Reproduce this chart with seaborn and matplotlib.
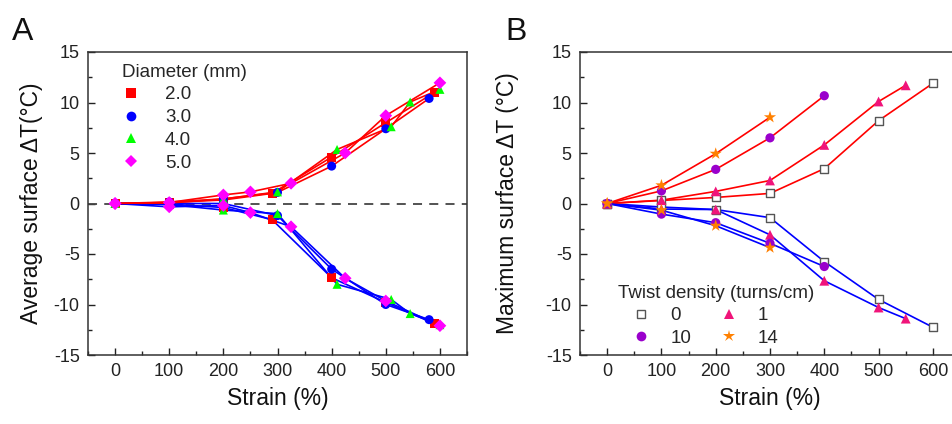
import matplotlib
matplotlib.use("Agg")
import matplotlib.pyplot as plt
from matplotlib.ticker import MultipleLocator
from matplotlib.lines import Line2D
import seaborn as sns
import pandas as pd

sns.set_theme(style="white")
plt.rcParams['font.family'] = ['Liberation Sans', 'DejaVu Sans']
plt.rcParams['axes.unicode_minus'] = False

# ---------------- Panel A data (diameter) ----------------
diameters = ["2.0", "3.0", "4.0", "5.0"]
strain_d20 = [0, 100, 200, 290, 400, 500, 590]
heat_d20 = [0, 0.1, 0.35, 1.0, 4.6, 8.0, 11.0]
cool_d20 = [0, -0.05, -0.4, -1.6, -7.35, -9.8, -11.9]
strain_d30 = [0, 100, 200, 300, 400, 500, 580]
heat_d30 = [0, 0.15, 0.45, 1.1, 3.7, 7.4, 10.4]
cool_d30 = [0, 0.0, 0.0, -1.2, -6.5, -10.0, -11.5]
strain_d40 = [0, 100, 200, 300, 410, 510, 545, 600]
heat_d40 = [0, 0.05, 0.45, 1.15, 5.35, 7.6, 10.05, 11.3]
cool_d40 = [0, -0.1, -0.65, -1.0, -8.0, -9.5, -10.9, -12.0]
strain_d50 = [0, 100, 200, 250, 325, 425, 500, 600]
heat_d50 = [0, 0.1, 0.85, 1.15, 2.0, 5.0, 8.7, 11.95]
cool_d50 = [0, -0.33, -0.2, -0.9, -2.3, -7.4, -9.65, -12.1]

# ---------------- Panel B data (twist density) ----------------
twists = ["0", "1", "10", "14"]
strain_t0 = [0, 100, 200, 300, 400, 500, 600]
heat_t0 = [0, 0.3, 0.6, 1.0, 3.45, 8.2, 11.9]
cool_t0 = [0, -0.35, -0.6, -1.4, -5.75, -9.5, -12.25]
strain_t1 = [0, 100, 200, 300, 400, 500, 550]
heat_t1 = [0, 0.33, 1.2, 2.28, 5.8, 10.1, 11.7]
cool_t1 = [0, -0.55, -0.6, -3.1, -7.65, -10.3, -11.4]
strain_t10 = [0, 100, 200, 300, 400]
heat_t10 = [0, 1.25, 3.38, 6.5, 10.67]
cool_t10 = [0, -1.05, -1.9, -3.94, -6.24]
strain_t14 = [0, 100, 200, 300]
heat_t14 = [0, 1.8, 4.93, 8.54]
cool_t14 = [0, -0.66, -2.2, -4.37]

xticks = [0, 100, 200, 300, 400, 500, 600]
yticks = [-15, -10, -5, 0, 5, 10, 15]

# build long tables
rows = []
for d, s, h, c in zip(diameters,
                      [strain_d20, strain_d30, strain_d40, strain_d50],
                      [heat_d20, heat_d30, heat_d40, heat_d50],
                      [cool_d20, cool_d30, cool_d40, cool_d50]):
    for xv, yv in zip(s, h):
        rows.append(dict(group=d, mode="heat", strain=xv, dT=yv))
    for xv, yv in zip(s, c):
        rows.append(dict(group=d, mode="cool", strain=xv, dT=yv))
dfA = pd.DataFrame(rows)

rows = []
for t, s, h, c in zip(twists,
                      [strain_t0, strain_t1, strain_t10, strain_t14],
                      [heat_t0, heat_t1, heat_t10, heat_t14],
                      [cool_t0, cool_t1, cool_t10, cool_t14]):
    for xv, yv in zip(s, h):
        rows.append(dict(group=t, mode="heat", strain=xv, dT=yv))
    for xv, yv in zip(s, c):
        rows.append(dict(group=t, mode="cool", strain=xv, dT=yv))
dfB = pd.DataFrame(rows)

line_col = {"heat": "#FF0000", "cool": "#0000FF"}

fig = plt.figure(figsize=(9.52, 4.24), dpi=100)
axA = fig.add_axes([88/952, 1-355/424, 379/952, 303/424])
axB = fig.add_axes([580/952, 1-355/424, 380/952, 303/424])

def style_axes(ax, ylabel):
    ax.set_xlim(-50, 650)
    ax.set_ylim(-15, 15)
    ax.set_xticks(xticks)
    ax.set_yticks(yticks)
    ax.xaxis.set_minor_locator(MultipleLocator(50))
    ax.yaxis.set_minor_locator(MultipleLocator(2.5))
    ax.tick_params(which="both", direction="in", top=False, right=False,
                   bottom=True, left=True, labelsize=13, colors="#222222",
                   labelcolor="#222222", pad=6)
    ax.tick_params(which="major", length=5, width=1)
    ax.tick_params(which="minor", length=3, width=1)
    for sp in ax.spines.values():
        sp.set_color("#333333")
        sp.set_linewidth(1.1)
    ax.set_xlabel("Strain (%)", fontsize=16.5, labelpad=5, color="#111111")
    ax.set_ylabel(ylabel, fontsize=16.5, labelpad=4, color="#111111")

# ---------------- Panel A ----------------
axA.axhline(0, color="#444444", lw=1.3, ls=(0, (5, 4)), zorder=1)
for (g, m), sub in dfA.groupby(["group", "mode"]):
    sns.lineplot(data=sub, x="strain", y="dT", ax=axA, color=line_col[m],
                 lw=1.2, estimator=None, sort=False, legend=False, zorder=2)
paletteA = {"2.0": "#FF0000", "3.0": "#0000FF", "4.0": "#00FF00", "5.0": "#FF00FF"}
markersA = {"2.0": "s", "3.0": "o", "4.0": "^", "5.0": "D"}
sns.scatterplot(data=dfA, x="strain", y="dT", hue="group", style="group",
                palette=paletteA, markers=markersA, hue_order=diameters,
                style_order=diameters, s=42, linewidth=0, ax=axA, zorder=3,
                legend=False)
handlesA = [Line2D([], [], ls="none", marker=markersA[d], color=paletteA[d],
                   markersize=7 if d != "5.0" else 6, markeredgewidth=0)
            for d in diameters]
legA = axA.legend(handlesA, diameters, title="Diameter (mm)", loc="upper left",
                  bbox_to_anchor=(0.055, 1.005), frameon=False, fontsize=13.5,
                  title_fontsize=13.5, handletextpad=1.3, labelspacing=0.3,
                  borderpad=0.2, handlelength=1.0)
legA._legend_box.align = "left"
style_axes(axA, "Average surface ΔT(°C)")
axA.yaxis.set_label_coords(-0.12, 0.5)

# ---------------- Panel B ----------------
for (g, m), sub in dfB.groupby(["group", "mode"]):
    sns.lineplot(data=sub, x="strain", y="dT", ax=axB, color=line_col[m],
                 lw=1.2, estimator=None, sort=False, legend=False, zorder=2)
styleB = {
    "0": dict(marker="s", facecolor="white", edgecolor="#555555", lw=1.0, s=34),
    "1": dict(marker="^", facecolor="#F0147A", edgecolor="none", lw=0, s=50),
    "10": dict(marker="o", facecolor="#9A00CC", edgecolor="none", lw=0, s=44),
    "14": dict(marker="*", facecolor="#FF8000", edgecolor="none", lw=0, s=85),
}
for t in twists:
    sub = dfB[dfB["group"] == t]
    st = styleB[t]
    sns.scatterplot(data=sub, x="strain", y="dT", ax=axB, marker=st["marker"],
                    color=st["facecolor"], edgecolor=st["edgecolor"],
                    linewidth=st["lw"], s=st["s"], zorder=3, legend=False)
handlesB = []
for t in twists:
    st = styleB[t]
    ms = {"0": 6, "1": 7, "10": 7, "14": 9}[t]
    handlesB.append(Line2D([], [], ls="none", marker=st["marker"],
                           markerfacecolor=st["facecolor"],
                           markeredgecolor=st["edgecolor"] if st["lw"] else st["facecolor"],
                           markeredgewidth=st["lw"], markersize=ms))
order = [0, 2, 1, 3]
legB = axB.legend([handlesB[i] for i in order], [twists[i] for i in order],
                  title="Twist density (turns/cm)", ncol=2, loc="lower left",
                  bbox_to_anchor=(0.065, -0.017), frameon=False, fontsize=13.5,
                  title_fontsize=13.5, handletextpad=0.3, labelspacing=0.3,
                  columnspacing=0.75, borderpad=0.2, handlelength=2.5)
legB._legend_box.align = "left"
style_axes(axB, "Maximum surface ΔT (°C)")
axB.yaxis.set_label_coords(-0.16, 0.5)

fig.text(12/952, 1-40/424, "A", fontsize=23, color="#111111")
fig.text(505/952, 1-40/424, "B", fontsize=23, color="#111111")

fig.savefig("out.png", dpi=100)
